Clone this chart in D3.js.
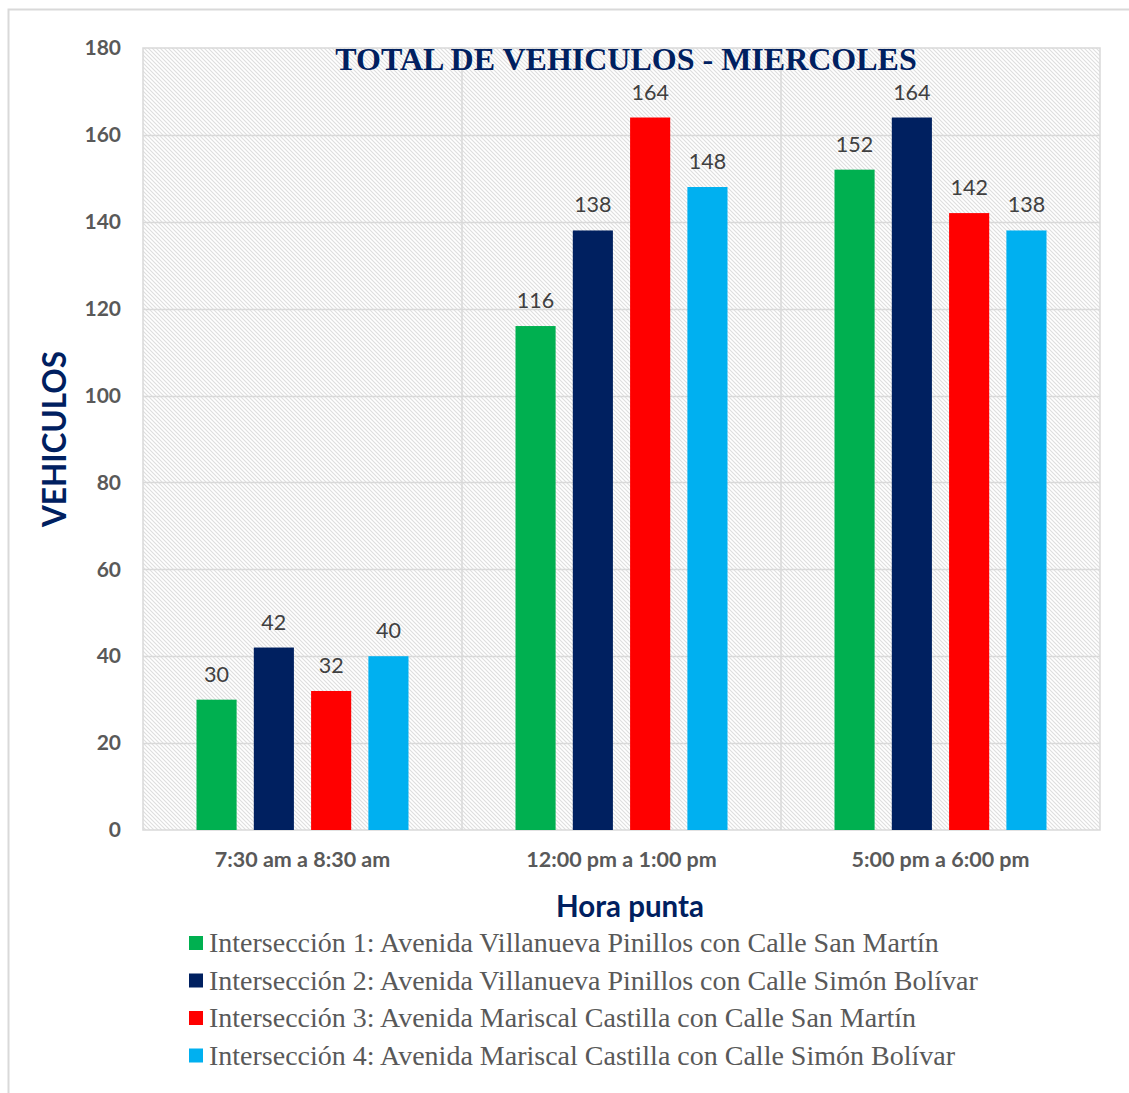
<!DOCTYPE html>
<html><head><meta charset="utf-8">
<script src="https://cdn.jsdelivr.net/npm/d3@7"></script>
<style>body{margin:0;background:#fff}</style>
</head><body>
<svg id="c" width="1129" height="1093"></svg>
<script>
const categories = ["7:30 am a 8:30 am", "12:00 pm a 1:00 pm", "5:00 pm a 6:00 pm"];
const seriesNames = [
  "Intersección 1: Avenida Villanueva Pinillos con Calle San Martín",
  "Intersección 2: Avenida Villanueva Pinillos con Calle Simón Bolívar",
  "Intersección 3: Avenida Mariscal Castilla con Calle San Martín",
  "Intersección 4: Avenida Mariscal Castilla con Calle Simón Bolívar"
];
const serie1 = [30, 116, 152];
const serie2 = [42, 138, 164];
const serie3 = [32, 164, 142];
const serie4 = [40, 148, 138];
const seriesColors = ["#00B050", "#002060", "#FF0000", "#00B0F0"];
const yTicks = [0, 20, 40, 60, 80, 100, 120, 140, 160, 180];

const seriesValues = [serie1, serie2, serie3, serie4];
const svg = d3.select("#c");

// outer frame (left & top visible)
svg.append("rect").attr("x", 8.5).attr("y", 9.5).attr("width", 1200).attr("height", 1200)
  .attr("fill", "none").attr("stroke", "#d9d9d9").attr("stroke-width", 2);

const plot = {left: 143, right: 1100, top: 48, bottom: 830};

const defs = svg.append("defs");
const pat = defs.append("pattern").attr("id", "hatch").attr("patternUnits", "userSpaceOnUse")
  .attr("width", 4).attr("height", 4);
pat.append("rect").attr("width", 4).attr("height", 4).attr("fill", "#fff");
pat.append("path").attr("d", "M-1,-1 L5,5 M-1,3 L1,5 M3,-1 L5,1")
  .attr("stroke", "#dedede").attr("stroke-width", 1.1);

svg.append("rect").attr("x", plot.left).attr("y", plot.top)
  .attr("width", plot.right - plot.left).attr("height", plot.bottom - plot.top)
  .attr("fill", "url(#hatch)").attr("stroke", "#d9d9d9").attr("stroke-width", 1.5);

const y = d3.scaleLinear().domain([0, 180]).range([plot.bottom, plot.top]);
const x0 = d3.scaleBand().domain(categories).range([plot.left, plot.right]).padding(0);
const x1 = d3.scaleBand().domain(d3.range(4)).range([53.5, x0.bandwidth() - 53.5]).paddingInner(0.3).paddingOuter(0);

// horizontal grid
svg.append("g").selectAll("line").data(yTicks.slice(1, -1)).join("line")
  .attr("x1", plot.left).attr("x2", plot.right)
  .attr("y1", d => Math.round(y(d)) + 0.5).attr("y2", d => Math.round(y(d)) + 0.5)
  .attr("stroke", "#d9d9d9").attr("stroke-width", 1.5);
// vertical category separators
svg.append("g").selectAll("line").data(categories.slice(1)).join("line")
  .attr("x1", d => x0(d)).attr("x2", d => x0(d))
  .attr("y1", plot.top).attr("y2", plot.bottom)
  .attr("stroke", "#d9d9d9").attr("stroke-width", 1.5);

// y axis
const yAxis = d3.axisLeft(y).tickValues(yTicks).tickSize(0).tickPadding(22);
const ya = svg.append("g").attr("transform", `translate(${plot.left},0)`).call(yAxis);
ya.select(".domain").remove();
ya.selectAll("text").attr("font-family", "Lato, 'Open Sans', sans-serif").attr("font-weight", "bold")
  .attr("font-size", 21).attr("fill", "#595959");

// x axis
const xAxis = d3.axisBottom(x0).tickSize(0).tickPadding(22);
const xa = svg.append("g").attr("transform", `translate(0,${plot.bottom})`).call(xAxis);
xa.select(".domain").remove();
xa.selectAll("text").attr("font-family", "Lato, 'Open Sans', sans-serif").attr("font-weight", "bold")
  .attr("font-size", 21.5).attr("fill", "#595959");

// bars
const groups = svg.append("g").selectAll("g").data(categories).join("g")
  .attr("transform", d => `translate(${x0(d)},0)`);
groups.each(function(cat, ci) {
  const g = d3.select(this);
  seriesValues.forEach((vals, si) => {
    g.append("rect").attr("x", x1(si)).attr("y", y(vals[ci]))
      .attr("width", x1.bandwidth()).attr("height", y(0) - y(vals[ci]))
      .attr("fill", seriesColors[si]);
    g.append("text").attr("x", x1(si) + x1.bandwidth() / 2).attr("y", y(vals[ci]) - 18)
      .attr("text-anchor", "middle").attr("font-family", "Lato, 'Open Sans', sans-serif")
      .attr("font-size", 21.5).attr("fill", "#404040").text(vals[ci]);
  });
});

// title
svg.append("text").attr("x", 626).attr("y", 70).attr("text-anchor", "middle")
  .attr("font-family", "'Liberation Serif', 'Times New Roman', serif").attr("font-weight", "bold")
  .attr("font-size", 32).attr("fill", "#002060").text("TOTAL DE VEHICULOS - MIERCOLES");

// axis titles
svg.append("text").attr("transform", "translate(66,439) rotate(-90)").attr("text-anchor", "middle")
  .attr("font-family", "Lato, 'Open Sans', sans-serif").attr("font-weight", "bold")
  .attr("font-size", 31.5).attr("fill", "#002060").text("VEHICULOS");
svg.append("text").attr("x", 630).attr("y", 917).attr("text-anchor", "middle")
  .attr("font-family", "Lato, 'Open Sans', sans-serif").attr("font-weight", "bold")
  .attr("font-size", 29.5).attr("fill", "#002060").text("Hora punta");

// legend
const lg = svg.append("g").selectAll("g").data(seriesNames).join("g")
  .attr("transform", (d, i) => `translate(189,${943 + i * 37.5})`);
lg.append("rect").attr("x", 0).attr("y", -7).attr("width", 14).attr("height", 14)
  .attr("fill", (d, i) => seriesColors[i]);
lg.append("text").attr("x", 20).attr("y", 9)
  .attr("font-family", "'Liberation Serif', 'Times New Roman', serif")
  .attr("font-size", 28).attr("fill", "#595959").text(d => d);
</script>
</body></html>
